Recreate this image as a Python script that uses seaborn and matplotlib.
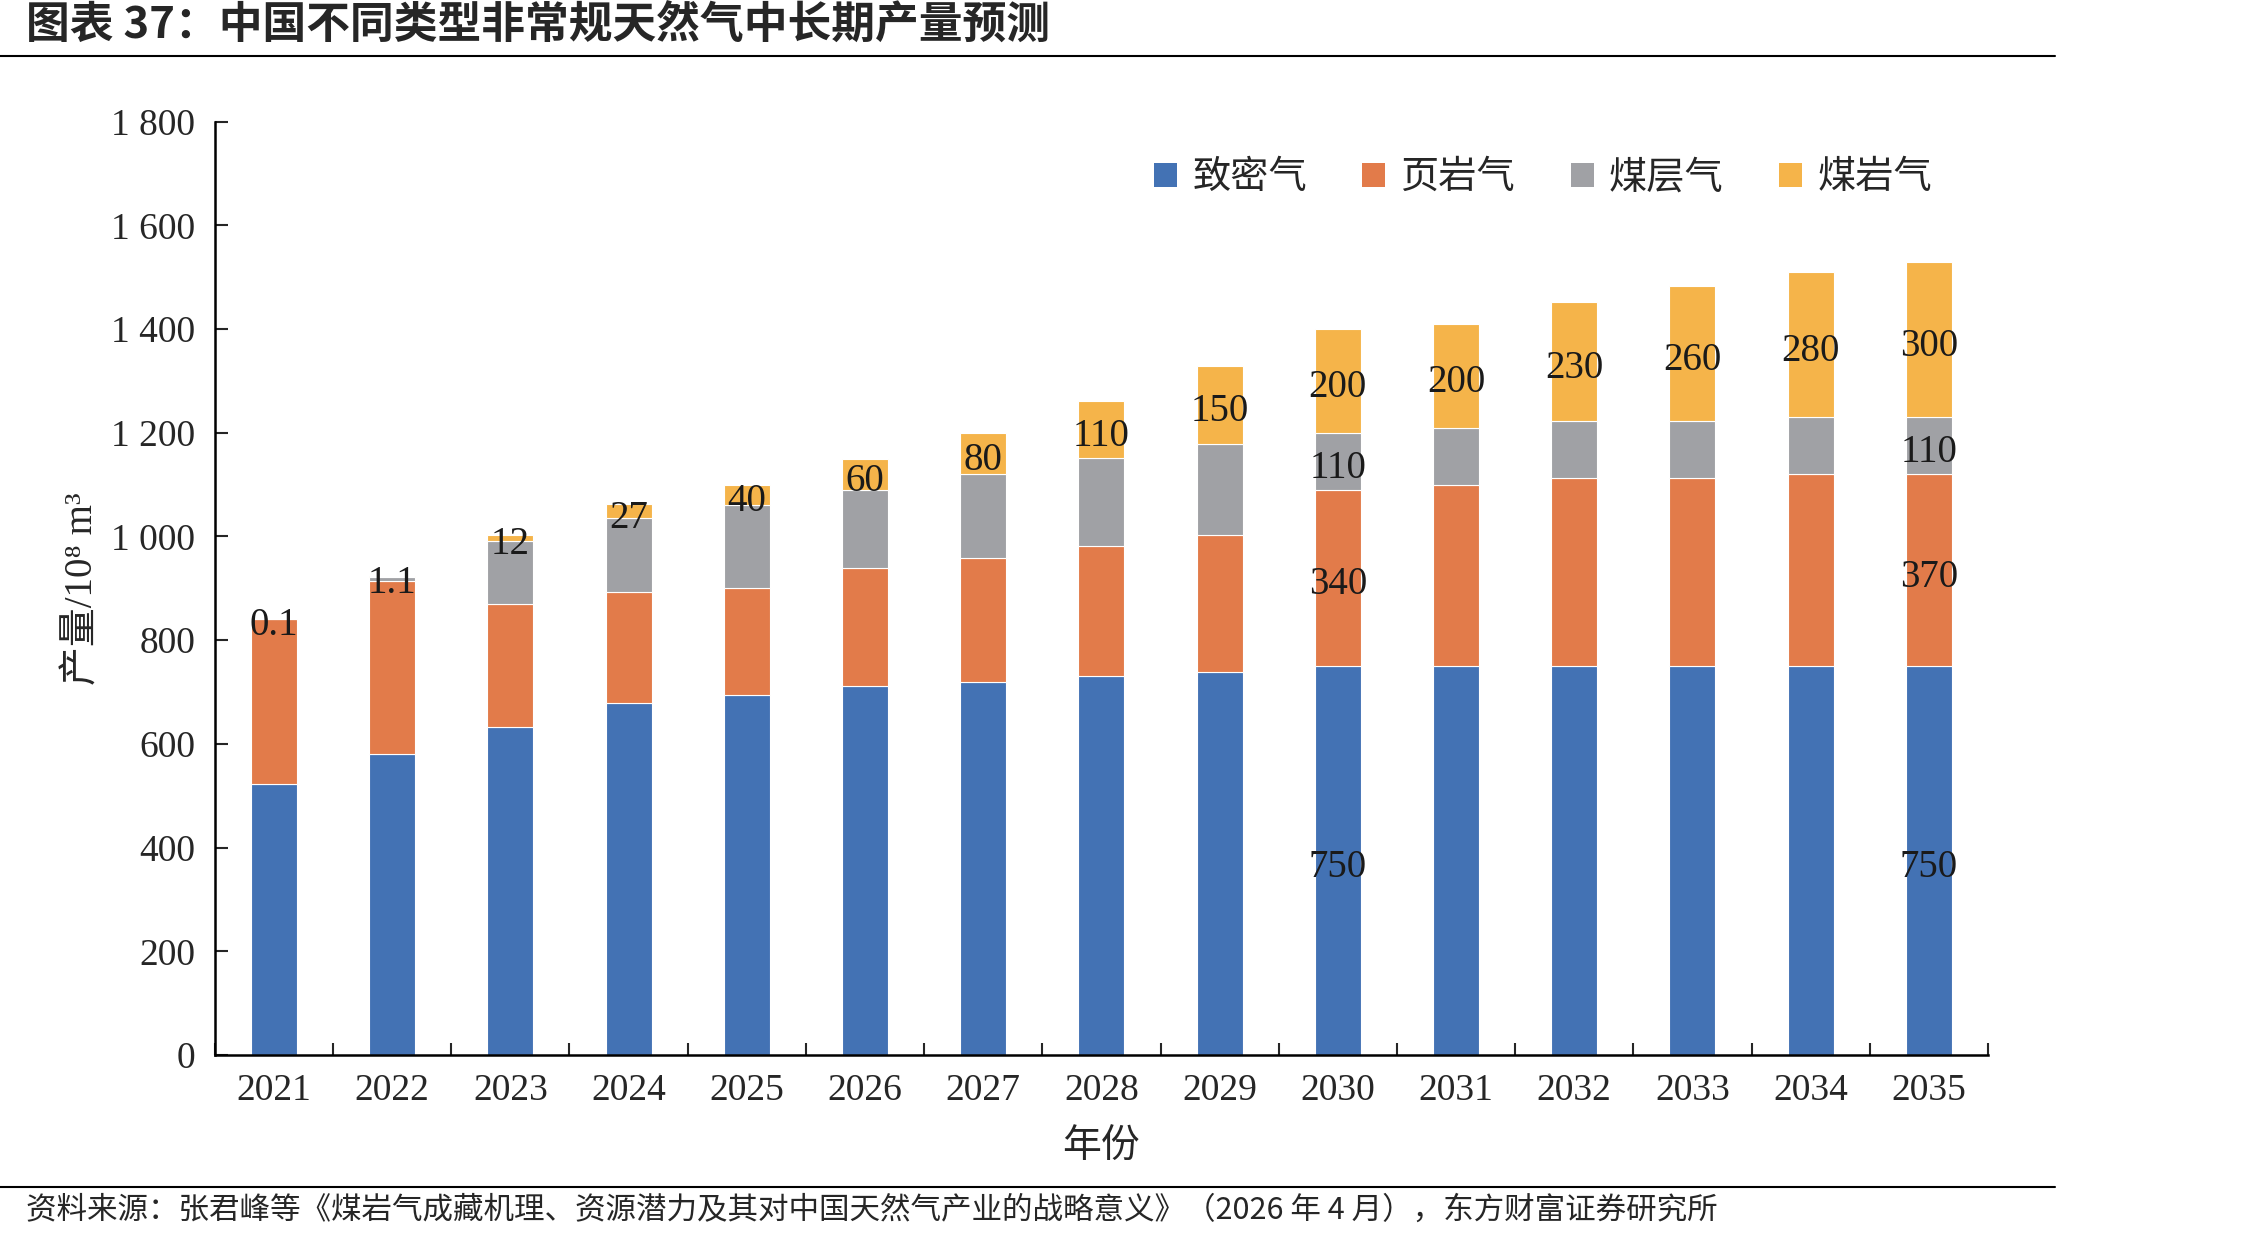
import matplotlib

matplotlib.use("Agg")

import matplotlib.pyplot as plt
import numpy as np
import pandas as pd
import seaborn as sns
from matplotlib.lines import Line2D
from matplotlib.patches import Patch


years = [str(y) for y in range(2021, 2036)]
tight_gas = [522, 581, 632, 679, 695, 711, 719, 731, 739, 750, 750, 750, 750, 750, 750]
shale_gas = [319, 333, 237, 214, 205, 228, 240, 251, 263, 340, 350, 363, 363, 370, 370]
coalbed_gas = [0, 8, 122, 142, 160, 150, 161, 170, 177, 110, 110, 110, 110, 110, 110]
coal_rock_gas = [0.1, 1.1, 12, 27, 40, 60, 80, 110, 150, 200, 200, 230, 260, 280, 300]
series_names = ["致密气", "页岩气", "煤层气", "煤岩气"]
labeled_years = ["2030", "2035"]
y_ticks = [0, 200, 400, 600, 800, 1000, 1200, 1400, 1600, 1800]
y_tick_labels = ["0", "200", "400", "600", "800", "1 000", "1 200", "1 400", "1 600", "1 800"]

colors = ["#4372B4", "#E27B4A", "#A0A1A5", "#F5B44A"]

title = "图表 37：中国不同类型非常规天然气中长期产量预测"
source = "资料来源：张君峰等《煤岩气成藏机理、资源潜力及其对中国天然气产业的战略意义》（2026 年 4 月），东方财富证券研究所"

sns.set_style("ticks")
plt.rcParams["font.family"] = ["Liberation Serif", "Noto Sans CJK SC", "DejaVu Sans"]

df = pd.DataFrame({
	"year": years,
	series_names[0]: tight_gas,
	series_names[1]: shale_gas,
	series_names[2]: coalbed_gas,
	series_names[3]: coal_rock_gas,
})

fig = plt.figure(figsize=(22.45, 12.42), dpi=100)
ax = fig.add_axes([0.0957, 0.1506, 0.7898, 0.7514])

bottom = np.zeros(len(years))
for name, color in zip(series_names, colors):
	values = df[name].to_numpy(dtype=float)
	sns.barplot(x=df["year"], y=values, bottom=bottom, color=color, width=0.39,
		saturation=1, errorbar=None, edgecolor="white", linewidth=0.8, ax=ax)
	container = ax.containers[-1]
	if name == "煤岩气":
		labels = [f"{v:g}" for v in values]
	else:
		labels = [f"{v:g}" if y in labeled_years else "" for y, v in zip(years, values)]
	texts = ax.bar_label(container, labels=labels, label_type="center", fontsize=28,
		color="#1a1a1a")
	for t in texts:
		t.xyann = (0, -5)
	bottom += values

ax.set_xlim(-0.5, 14.5)
ax.set_ylim(0, 1800)
ax.set_yticks(y_ticks)
ax.set_yticklabels(y_tick_labels)
ax.set_xticks(range(len(years)))
ax.set_xticklabels(years)
ax.set_xticks(np.arange(-0.5, len(years), 1), minor=True)
ax.tick_params(axis="x", which="major", length=0, pad=13, labelsize=27)
ax.tick_params(axis="x", which="minor", direction="in", length=9, width=1.5)
ax.tick_params(axis="y", which="major", direction="in", length=9, width=1.5, pad=14, labelsize=27)

for side in ["top", "right"]:
	ax.spines[side].set_visible(False)
for side in ["left", "bottom"]:
	ax.spines[side].set_linewidth(1.8)
	ax.spines[side].set_color("black")

ax.set_xlabel("年份", fontsize=28)
ax.xaxis.set_label_coords(0.5, -0.079)
ax.set_ylabel("产量/10⁸ m³", fontsize=28)
ax.yaxis.set_label_coords(-0.064, 0.5)

handles = [Patch(facecolor=c, edgecolor="none") for c in colors]
ax.legend(handles, series_names, loc="center", bbox_to_anchor=(0.749, 0.94), ncol=4,
	frameon=False, handlelength=0.6, handleheight=0.6,
	handletextpad=0.4, columnspacing=1.45,
	prop={"family": ["Noto Sans CJK SC"], "size": 27.5})

fig.text(0.0116, 0.979, title, fontsize=31.5, fontweight="bold", va="center", ha="left",
	family=["Noto Sans CJK SC"])
fig.add_artist(Line2D([0, 0.9154], [1 - 56 / 1242] * 2, transform=fig.transFigure,
	color="black", linewidth=1.5))
fig.add_artist(Line2D([0, 0.9154], [1 - 1187 / 1242] * 2, transform=fig.transFigure,
	color="black", linewidth=1.5))
fig.text(0.0116, 0.0258, source, fontsize=22, va="center", ha="left",
	family=["Noto Sans CJK SC"])

fig.savefig("out.png", dpi=100)
plt.close(fig)
